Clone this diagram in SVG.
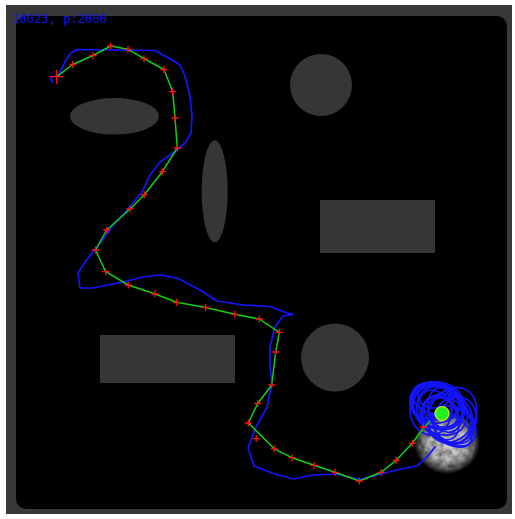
<svg xmlns="http://www.w3.org/2000/svg" width="515" height="519" viewBox="0 0 515 519">
<defs>
<style>
.obs{fill:#363636}
.blue{fill:none;stroke:#1414ff;stroke-width:1.7;stroke-linejoin:round;stroke-linecap:round}
.green{fill:none;stroke:#10d010;stroke-width:1.5;stroke-linejoin:round}
.red{stroke:#ff1010;stroke-width:1.3}
</style>
<radialGradient id="glow" cx="0.5" cy="0.5" r="0.5">
<stop offset="0" stop-color="#dcdcdc"/>
<stop offset="0.55" stop-color="#bcbcbc"/>
<stop offset="0.8" stop-color="#606060"/>
<stop offset="1" stop-color="#000" stop-opacity="0"/>
</radialGradient>
<filter id="mottle" x="-10%" y="-10%" width="120%" height="120%">
<feTurbulence type="fractalNoise" baseFrequency="0.16" numOctaves="2" seed="3" result="n"/>
<feColorMatrix in="n" type="matrix" values="0 0 0 0 0  0 0 0 0 0  0 0 0 0 0  0 0 0 -1.4 1.05" result="dark"/>
<feComposite in="dark" in2="SourceGraphic" operator="in" result="d2"/>
<feMerge><feMergeNode in="SourceGraphic"/><feMergeNode in="d2"/></feMerge>
</filter>
<path id="cr" d="M-3.5,0H3.5M0,-3.5V3.5"/>
</defs>
<rect x="0" y="0" width="515" height="519" fill="#ffffff"/>
<rect x="6" y="5" width="506" height="509" fill="#383838"/>
<rect x="16" y="16" width="491" height="493" rx="10" fill="#000000"/>

<g id="obstacles">
<circle class="obs" cx="321" cy="85" r="31"/>
<rect class="obs" x="320" y="200" width="115" height="53"/>
<ellipse class="obs" cx="114.5" cy="116.3" rx="44.5" ry="18.3"/>
<ellipse class="obs" cx="214.7" cy="191.3" rx="13" ry="51"/>
<rect class="obs" x="100" y="335" width="135" height="48"/>
<circle class="obs" cx="335" cy="357.5" r="34"/>
</g>

<g id="glow-blob">
<ellipse cx="447" cy="443" rx="35" ry="33" fill="url(#glow)" filter="url(#mottle)"/>
</g>

<text x="12" y="23" font-family="DejaVu Sans Mono, monospace" font-size="12.5" fill="#1414e6" textLength="95" lengthAdjust="spacingAndGlyphs">10023, p:2000</text>

<g id="trajectory">
<path class="blue" d="M53,82 Q49,79 52,77 Q56,75 58,77 L60,72 L65,62 L70,53.5 L77,49.5 L155,50.5 L163,55 L172,60 L180,65 L185,76 L190,96 L192,116 L191,133 L185,143 L177,150 L160,162 L150,175 L142,192 L127,210 L112,227 L98,246 L85,262 L78,273 L80,288 L93,288 L123,282 L143,277 L160,275 L177,278 L200,290 L217,301 L243,305 L270,306.5 L287,313 L293,314.3 L283,316 L275,327 L270,347 L270,367 L272,383 L267,407 L255,429 L248,448 L254,466 L272,473 L293,479 L313,475 L337,474 L360,479.5 L383,473.5 L403,468.5 L417,466 L427,457 L435,447"/>
<g class="blue">
<ellipse cx="440" cy="410" rx="29" ry="23" transform="rotate(35 440 410)"/>
<ellipse cx="438" cy="407" rx="25" ry="21" transform="rotate(20 438 407)"/>
<ellipse cx="445" cy="415" rx="32" ry="24" transform="rotate(45 445 415)"/>
<ellipse cx="435" cy="403" rx="24" ry="20" transform="rotate(10 435 403)"/>
<ellipse cx="447" cy="419" rx="27" ry="22" transform="rotate(50 447 419)"/>
<ellipse cx="441" cy="412" rx="18" ry="14" transform="rotate(30 441 412)"/>
<ellipse cx="436" cy="401" rx="26" ry="19"/>
<ellipse cx="449" cy="421" rx="31" ry="20" transform="rotate(40 449 421)"/>
<ellipse cx="431" cy="409" rx="21" ry="26"/>
<ellipse cx="452" cy="415" rx="23" ry="29" transform="rotate(30 452 415)"/>
<ellipse cx="440" cy="408" rx="12" ry="10"/>
<ellipse cx="433" cy="398" rx="21" ry="15" transform="rotate(15 433 398)"/>
<ellipse cx="445" cy="410" rx="16" ry="23" transform="rotate(-20 445 410)"/>
<ellipse cx="439" cy="415" rx="27" ry="17" transform="rotate(60 439 415)"/>
<ellipse cx="453" cy="425" rx="22" ry="17" transform="rotate(35 453 425)"/>
<ellipse cx="437" cy="405" rx="28" ry="22" transform="rotate(25 437 405)"/>
<ellipse cx="455" cy="420" rx="21" ry="24" transform="rotate(20 455 420)"/>
<ellipse cx="443" cy="412" rx="22" ry="18" transform="rotate(-10 443 412)"/>
<ellipse cx="434" cy="396" rx="16" ry="12"/>
<ellipse cx="450" cy="430" rx="24" ry="14" transform="rotate(30 450 430)"/>
</g>
</g>

<g id="plan">
<polyline class="green" points="56.7,76.7 72.7,64.5 93,55.5 110.7,46 128,49.3 144,58.7 164,69.5 172.7,91.7 175,118 177.3,148 162.3,171.7 144.3,194.7 130,209 106.7,230 95.5,250 105.7,271.7 128.3,285 155,294 176.5,302.3 205.7,307.5 234.7,314.3 259.3,319 279.3,332.3 275.7,352 271.7,385 257.7,403.5 248.3,423 274.2,448.8 292,457.7 314,465.3 335,472.3 359.3,481 381,472.3 396,460.5 412.3,443.3 422,430 430,421"/>
<g class="red">
<path d="M49.7,76.7H63.7M56.7,69.7V83.7"/>
<use href="#cr" x="72.7" y="64.5"/>
<use href="#cr" x="93" y="55.5"/>
<use href="#cr" x="110.7" y="46"/>
<use href="#cr" x="128" y="49.3"/>
<use href="#cr" x="144" y="58.7"/>
<use href="#cr" x="164" y="69.5"/>
<use href="#cr" x="172.7" y="91.7"/>
<use href="#cr" x="175" y="118"/>
<use href="#cr" x="177.3" y="148"/>
<use href="#cr" x="162.3" y="171.7"/>
<use href="#cr" x="144.3" y="194.7"/>
<use href="#cr" x="130" y="209"/>
<use href="#cr" x="106.7" y="230"/>
<use href="#cr" x="95.5" y="250"/>
<use href="#cr" x="105.7" y="271.7"/>
<use href="#cr" x="128.3" y="285"/>
<use href="#cr" x="155" y="294"/>
<use href="#cr" x="176.5" y="302.3"/>
<use href="#cr" x="205.7" y="307.5"/>
<use href="#cr" x="234.7" y="314.3"/>
<use href="#cr" x="259.3" y="319"/>
<use href="#cr" x="279.3" y="332.3"/>
<use href="#cr" x="275.7" y="352"/>
<use href="#cr" x="271.7" y="385"/>
<use href="#cr" x="257.7" y="403.5"/>
<use href="#cr" x="248.3" y="423"/>
<use href="#cr" x="256.2" y="438.6"/>
<use href="#cr" x="274.2" y="448.8"/>
<use href="#cr" x="292" y="457.7"/>
<use href="#cr" x="314" y="465.3"/>
<use href="#cr" x="335" y="472.3"/>
<use href="#cr" x="359.3" y="481"/>
<use href="#cr" x="381" y="472.3"/>
<use href="#cr" x="396" y="460.5"/>
<use href="#cr" x="412.3" y="443.3"/>
<use href="#cr" x="423.5" y="427"/>
</g>
</g>

<g id="goal">
<circle cx="442" cy="413.5" r="7" fill="#20f020" stroke="#d8f000" stroke-width="1.2"/>
</g>
</svg>
